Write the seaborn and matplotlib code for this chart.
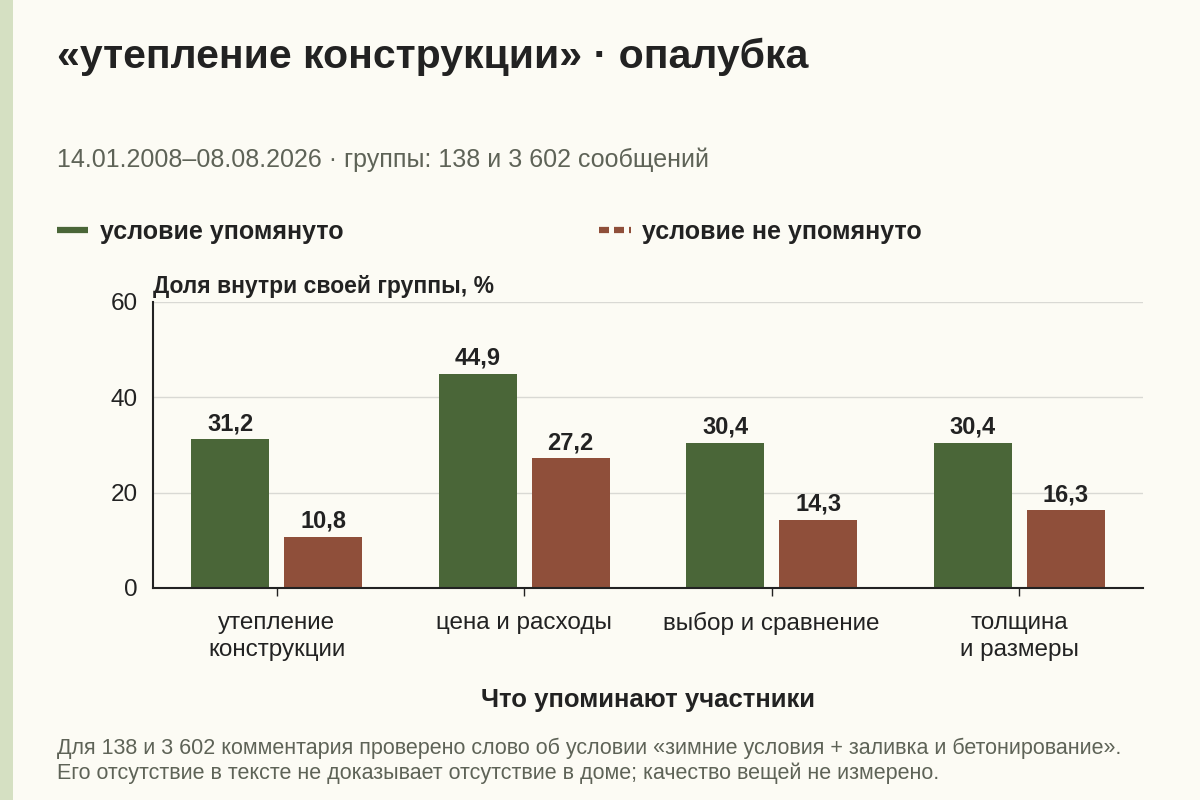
import numpy as np
import pandas as pd
import matplotlib
matplotlib.use('Agg')
import matplotlib.pyplot as plt
from matplotlib.lines import Line2D
from matplotlib.patches import Rectangle
import seaborn as sns

# данные с картинки
categories = ['утепление\nконструкции', 'цена и расходы', 'выбор и сравнение', 'толщина\nи размеры']
mentioned = [31.2, 44.9, 30.4, 30.4]
not_mentioned = [10.8, 27.2, 14.3, 16.3]
groups = ['условие упомянуто', 'условие не упомянуто']
y_ticks = [0, 20, 40, 60]

BG = '#fcfbf4'
GREEN = '#4a6638'
RED = '#8f4f3a'
TEXT = '#222222'
GREY = '#5e6357'

df = pd.DataFrame({
    'category': categories * 2,
    'value': mentioned + not_mentioned,
    'group': [groups[0]] * len(categories) + [groups[1]] * len(categories),
})

sns.set_theme(style='white')
plt.rcParams['font.family'] = ['Liberation Sans', 'DejaVu Sans']

fig = plt.figure(figsize=(12, 8), dpi=100, facecolor=BG)
# полоска слева
fig.patches.append(Rectangle((0, 0), 13 / 1200, 1, transform=fig.transFigure,
                             facecolor='#d5e0c2', edgecolor='none', zorder=0))

ax = fig.add_axes([0.1275, 0.265, 0.825, 0.3575], facecolor=BG)
sns.barplot(data=df, x='category', y='value', hue='group', order=categories,
            hue_order=groups, palette=[GREEN, RED], width=0.75, gap=0.16,
            saturation=1, linewidth=0, legend=False, ax=ax)

for cont in ax.containers:
    ax.bar_label(cont, labels=[f'{v:.1f}'.replace('.', ',') for v in cont.datavalues],
                 padding=3, fontsize=17, fontweight='bold', color=TEXT)

ax.set_ylim(0, 60)
ax.set_yticks(y_ticks)
ax.set_xlim(-0.5, len(categories) - 0.5)
ax.grid(axis='y', color='#d9d9d4', lw=1)
ax.set_axisbelow(True)
for s in ['top', 'right']:
    ax.spines[s].set_visible(False)
for s in ['left', 'bottom']:
    ax.spines[s].set_color(TEXT)
    ax.spines[s].set_linewidth(1.5)
ax.tick_params(axis='y', length=0, pad=11, labelsize=17.5, labelcolor=TEXT)
ax.tick_params(axis='x', length=6, width=1, color=TEXT, direction='out',
               pad=11, labelsize=17.5, labelcolor=TEXT, bottom=True)
for lbl in ax.get_xticklabels():
    lbl.set_linespacing(1.3)
ax.set_ylabel('')
ax.set_xlabel('Что упоминают участники', fontsize=18.5, fontweight='bold',
              color=TEXT, labelpad=20)
ax.text(0, 1.015, 'Доля внутри своей группы, %', transform=ax.transAxes,
        fontsize=16.5, fontweight='bold', color=TEXT, ha='left', va='bottom')

fig.text(57 / 1200, 1 - 57 / 800, '«утепление конструкции» · опалубка',
         fontsize=29.5, fontweight='bold', color=TEXT, ha='left', va='center')
fig.text(57 / 1200, 1 - 160 / 800,
         '14.01.2008–08.08.2026 · группы: 138 и 3 602 сообщений',
         fontsize=18, color=GREY, ha='left', va='center')

handles = [Line2D([], [], color=GREEN, lw=4.5, solid_capstyle='butt'),
           Line2D([], [], color=RED, lw=4.5, ls=(0, (1.6, 0.8)), dash_capstyle='butt')]
leg = fig.legend(handles, groups, loc='center left',
                 bbox_to_anchor=(57 / 1200, 1 - 232 / 800), borderaxespad=0,
                 borderpad=0, ncol=2, frameon=False, handlelength=1.25,
                 handletextpad=0.45, columnspacing=10.25,
                 prop={'size': 18, 'weight': 'bold'}, labelcolor=TEXT)

fig.text(57 / 1200, 1 - 761 / 800,
         'Для 138 и 3 602 комментария проверено слово об условии «зимние условия + заливка и бетонирование».\n'
         'Его отсутствие в тексте не доказывает отсутствие в доме; качество вещей не измерено.',
         fontsize=15.5, color=GREY, ha='left', va='center', linespacing=1.2)

fig.savefig('out.png', dpi=100, facecolor=BG)
